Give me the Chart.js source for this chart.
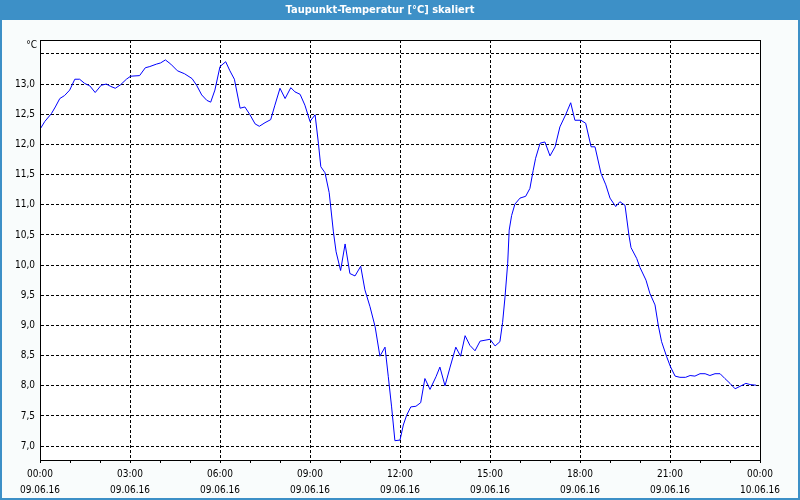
<!DOCTYPE html>
<html>
<head>
<meta charset="utf-8">
<script src="https://cdn.jsdelivr.net/npm/chart.js@4"></script>
<style>
  html, body { margin: 0; padding: 0; background: #f9fcfc; }
  #wrap { width: 800px; height: 500px; }
</style>
</head>
<body>
<div id="wrap"><canvas id="c" width="800" height="500"></canvas></div>
<script>
// Time of day in hours (09.06.16 00:00 = 0)
const hours = [
  0.00, 0.16, 0.38, 0.51, 0.66, 0.82, 0.99, 1.16, 1.32, 1.49, 1.66, 1.84, 2.04, 2.21, 2.36, 2.51, 2.69, 2.88,
  3.02, 3.32, 3.51, 3.66, 3.88, 4.02, 4.18, 4.36, 4.58, 4.82, 5.07, 5.22, 5.39, 5.56, 5.69, 5.83,
  6.00, 6.19, 6.33, 6.48, 6.67, 6.83, 7.00, 7.17, 7.31, 7.50, 7.69, 7.83, 8.00, 8.17, 8.36, 8.50, 8.67, 8.83,
  9.00, 9.17, 9.28, 9.36, 9.50, 9.64, 9.78, 9.87, 10.02, 10.17, 10.33, 10.50, 10.69, 10.83,
  11.00, 11.17, 11.33, 11.50, 11.61, 11.72, 11.83, 12.00, 12.11, 12.22, 12.36, 12.53, 12.69, 12.83,
  13.00, 13.20, 13.33, 13.50, 13.67, 13.86, 14.02, 14.17, 14.33, 14.50, 14.67, 15.00, 15.17, 15.33,
  15.42, 15.50, 15.59, 15.64, 15.72, 15.83, 16.00, 16.19, 16.33, 16.44, 16.52, 16.67, 16.83, 17.00,
  17.17, 17.33, 17.52, 17.69, 17.83, 18.03, 18.19, 18.37, 18.50, 18.70, 18.86, 19.00, 19.19, 19.33,
  19.50, 19.63, 19.70, 19.89, 20.00, 20.20, 20.33, 20.50, 20.61, 20.72, 20.89, 21.02, 21.17, 21.33,
  21.52, 21.67, 21.83, 22.00, 22.17, 22.33, 22.50, 22.67, 22.83, 23.00, 23.17, 23.33, 23.53, 23.67, 23.87
];
// Dew point temperature [°C]
const dewPoint = [
  12.25, 12.38, 12.51, 12.62, 12.76, 12.81, 12.90, 13.08, 13.08, 13.01, 12.97, 12.86, 12.98, 13.00, 12.96, 12.93, 12.99, 13.08,
  13.13, 13.14, 13.27, 13.29, 13.33, 13.35, 13.40, 13.33, 13.22, 13.17, 13.09, 12.98, 12.82, 12.73, 12.70, 12.90,
  13.29, 13.37, 13.22, 13.08, 12.60, 12.62, 12.49, 12.34, 12.30, 12.36, 12.41, 12.65, 12.93, 12.76, 12.94, 12.87, 12.83, 12.65,
  12.38, 12.49, 12.02, 11.63, 11.53, 11.20, 10.55, 10.22, 9.91, 10.35, 9.86, 9.82, 9.98, 9.59,
  9.31, 8.98, 8.49, 8.64, 8.15, 7.65, 7.09, 7.10, 7.35, 7.51, 7.65, 7.66, 7.72, 8.12,
  7.94, 8.15, 8.31, 8.00, 8.31, 8.64, 8.49, 8.83, 8.67, 8.58, 8.74, 8.77, 8.66, 8.73,
  9.05, 9.47, 10.03, 10.58, 10.82, 11.01, 11.11, 11.14, 11.27, 11.57, 11.77, 12.02, 12.04, 11.81,
  11.96, 12.29, 12.49, 12.69, 12.40, 12.40, 12.35, 11.96, 11.96, 11.52, 11.33, 11.11, 10.97, 11.05,
  10.99, 10.50, 10.29, 10.11, 9.96, 9.75, 9.53, 9.34, 9.00, 8.73, 8.48, 8.31, 8.16, 8.14,
  8.14, 8.17, 8.16, 8.20, 8.20, 8.17, 8.20, 8.20, 8.12, 8.04, 7.95, 7.99, 8.04, 8.02, 8.01
];
// Axis ticks
const xTickHours = [0,1,2,3,4,5,6,7,8,9,10,11,12,13,14,15,16,17,18,19,20,21,22,23,24];
const yTickValues = [7.0, 7.5, 8.0, 8.5, 9.0, 9.5, 10.0, 10.5, 11.0, 11.5, 12.0, 12.5, 13.0, 13.5];
const titleText = 'Taupunkt-Temperatur [°C] skaliert';
const unitText = '°C';

const FONT = "'DejaVu Sans Condensed', 'DejaVu Sans', sans-serif";

const decor = {
  id: 'decor',
  beforeDraw(chart) {
    const ctx = chart.ctx;
    const ca = chart.chartArea;
    ctx.save();
    ctx.fillStyle = '#f9fcfc';
    ctx.fillRect(0, 0, chart.width, chart.height);
    ctx.fillStyle = '#ffffff';
    ctx.fillRect(ca.left, ca.top, ca.right - ca.left, ca.bottom - ca.top);
    ctx.fillStyle = '#3d90c7';
    ctx.fillRect(0, 0, chart.width, 20);
    ctx.strokeStyle = '#3d90c7';
    ctx.lineWidth = 2;
    ctx.strokeRect(1, 1, chart.width - 2, chart.height - 2);
    ctx.restore();
  },
  afterDatasetsDraw(chart) {
    const ctx = chart.ctx;
    const ca = chart.chartArea;
    ctx.save();
    ctx.strokeStyle = '#000';
    ctx.lineWidth = 1;
    ctx.setLineDash([]);
    const l = Math.round(ca.left) + 0.5, t = Math.round(ca.top) + 0.5;
    const r = Math.round(ca.right) + 0.5, b = Math.round(ca.bottom) + 0.5;
    ctx.strokeRect(l, t, r - l, b - t);
    ctx.fillStyle = '#000';
    ctx.font = '10px ' + FONT;
    ctx.textAlign = 'right';
    ctx.textBaseline = 'middle';
    ctx.fillText(unitText, ca.left - 3, ca.top + 5);
    ctx.restore();
  }
};

new Chart(document.getElementById('c'), {
  type: 'line',
  data: {
    datasets: [{
      data: hours.map((h, i) => ({ x: h, y: dewPoint[i] })),
      borderColor: '#0000ff',
      borderWidth: 1,
      pointRadius: 0,
      tension: 0,
      fill: false
    }]
  },
  options: {
    responsive: false,
    animation: false,
    devicePixelRatio: 1,
    layout: { padding: { left: 0, right: 40, top: 0, bottom: 0 } },
    plugins: {
      legend: { display: false },
      tooltip: { enabled: false },
      title: {
        display: true,
        text: titleText,
        color: '#ffffff',
        font: { family: FONT, size: 11, weight: 'bold', lineHeight: 1.2 },
        padding: { top: 4, bottom: 22.8 }
      }
    },
    scales: {
      x: {
        type: 'linear',
        min: 0,
        max: 24,
        afterBuildTicks(scale) { scale.ticks = xTickHours.map(v => ({ value: v })); },
        afterFit(scale) { scale.height = 40; },
        border: { display: true, color: '#000', width: 1, dash: [3, 2] },
        grid: {
          color: (c) => (c.tick && c.tick.value % 3 === 0) ? '#000' : 'rgba(0,0,0,0)',
          tickColor: '#000',
          tickLength: 3,
          drawTicks: true,
          lineWidth: 1,
          tickBorderDash: []
        },
        ticks: {
          autoSkip: false,
          maxRotation: 0,
          color: '#000',
          padding: 3,
          font: { family: FONT, size: 10, lineHeight: 1.6 },
          callback(v) {
            if (v % 3 !== 0) return '';
            const hh = String(v % 24).padStart(2, '0') + ':00';
            const d = v < 24 ? '09.06.16' : '10.06.16';
            return [hh, d];
          }
        }
      },
      y: {
        min: 6.77,
        max: 13.73,
        afterBuildTicks(scale) { scale.ticks = yTickValues.map(v => ({ value: v })); },
        afterFit(scale) { scale.width = 40; },
        border: { display: true, color: '#000', width: 1, dash: [3, 2] },
        grid: {
          color: '#000',
          lineWidth: 1,
          drawTicks: false
        },
        ticks: {
          color: '#000',
          padding: 5,
          font: { family: FONT, size: 10 },
          callback(v) {
            if (Math.abs(v - 13.5) < 1e-6) return '';
            return v.toFixed(1).replace('.', ',');
          }
        }
      }
    }
  },
  plugins: [decor]
});
</script>
</body>
</html>
